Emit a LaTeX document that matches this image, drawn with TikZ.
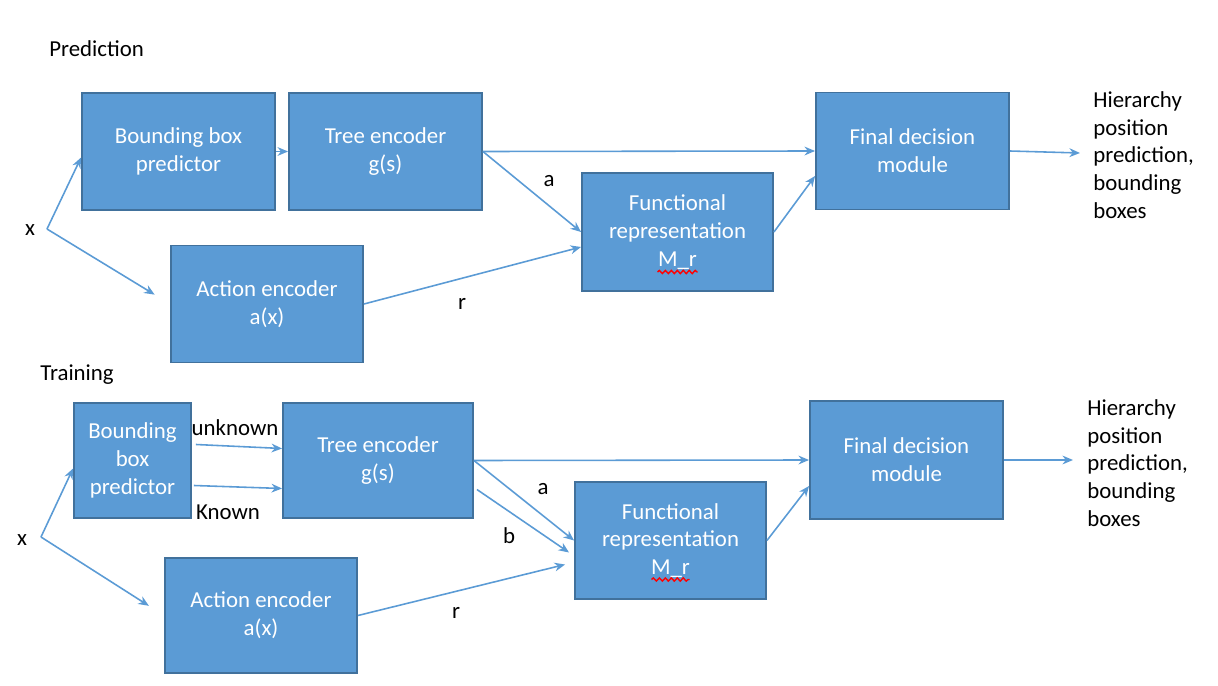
\documentclass[tikz,border=0pt]{standalone}
\usepackage{fontspec}
\setmainfont{Carlito}
\usetikzlibrary{arrows.meta,calc,decorations.pathmorphing}
\definecolor{boxfill}{HTML}{5B9BD5}
\definecolor{boxedge}{HTML}{41719C}
\tikzset{
	block/.style={draw=boxedge, fill=boxfill, line width=1.1pt, text=white, align=center,
		inner sep=0pt, minimum width=3.86cm, minimum height=2.34cm},
	flow/.style={-{Stealth[length=6pt,width=5pt]}, draw=boxfill, line width=0.9pt},
	lbl/.style={inner sep=0pt},
	squiggle/.style={red, line width=0.8pt, decorate,
		decoration={snake, amplitude=0.9pt, segment length=3.4pt}}
}
\begin{document}
\begin{tikzpicture}[x=0.02cm, y=-0.02cm, font=\fontsize{13}{15.8}\selectfont]
			\useasboundingbox (0,0) rectangle (1218,686);
			% prediction
			\node[lbl, anchor=west] (predL) at (49,49) {Prediction};
			\node[block] (bbP) at (178.5,151.5) {Bounding box\\predictor};
			\node[block] (treeP) at (385.5,151.5) {Tree encoder\\g(s)};
			\node[block] (finalP) at (912.5,151) {Final decision\\module};
			\node[block, minimum width=3.82cm, minimum height=2.36cm] (funcP) at (677.5,232) {Functional\\representation\\M\_r};
			\node[block, minimum width=3.84cm] (actP) at (267,304) {Action encoder\\a(x)};
			\coordinate (xP) at (47,229);
			\node[lbl] (xPL) at (30,230) {x};
			\coordinate (outP) at (1080,153);
			\node[lbl, anchor=west, align=left] (resP) at (1093,155) {Hierarchy\\position\\prediction,\\bounding\\boxes};
			\draw[flow] (xP) -- ($(bbP.west)+(0,6)$);
			\draw[flow, shorten >=0.36cm] (xP) -- (actP.west);
			\draw[flow] (bbP.east) -- (treeP.west);
			\draw[flow] (treeP.east) -- (finalP.west);
			\draw[flow] (treeP.east) -- (funcP.west);
			\draw[flow] (actP.east) -- ($(funcP.west)+(0,15)$);
			\draw[flow] (funcP.east) -- ($(finalP.west)+(0,25)$);
			\draw[flow] (finalP.east) -- (outP);
			\node[lbl] (aP) at (549,181) {a};
			\node[lbl] (rP) at (462,304) {r};
			\draw[squiggle] ($(funcP.center)+(-20,40)$) -- ($(funcP.center)+(20,40)$);
			% training
			\node[lbl, anchor=west] (trainL) at (40,375) {Training};
			\node[block, minimum width=2.34cm, minimum height=2.3cm] (bbT) at (132.5,460.5) {Bounding\\box\\predictor};
			\node[block, minimum width=3.8cm, minimum height=2.3cm] (treeT) at (378,460.5) {Tree encoder\\g(s)};
			\node[block, minimum height=2.36cm] (finalT) at (906.5,460) {Final decision\\module};
			\node[block, minimum width=3.82cm] (funcT) at (670.5,540.5) {Functional\\representation\\M\_r};
			\node[block, minimum width=3.84cm, minimum height=2.3cm] (actT) at (261,615.5) {Action encoder\\a(x)};
			\coordinate (xT) at (41,537);
			\node[lbl] (xTL) at (22,540) {x};
			\coordinate (outT) at (1073,460);
			\node[lbl, anchor=west, align=left] (resT) at (1087,463) {Hierarchy\\position\\prediction,\\bounding\\boxes};
			\draw[flow] (xT) -- ($(bbT.west)+(0,8)$);
			\draw[flow, shorten >=0.36cm] (xT) -- (actT.west);
			\draw[flow] ($(bbT.east)+(4,-16)$) -- ($(treeT.west)+(0,-12)$);
			\draw[flow] ($(bbT.east)+(2,25)$) -- ($(treeT.west)+(0,28)$);
			\node[lbl] (unkL) at (235,428) {unknown};
			\node[lbl] (knL) at (228,512) {Known};
			\draw[flow] (treeT.east) -- (finalT.west);
			\draw[flow] (treeT.east) -- (funcT.west);
			\draw[flow] ($(treeT.east)+(3,29)$) -- ($(funcT.west)+(-5,12)$);
			\draw[flow] (actT.east) -- ($(funcT.west)+(-9,24)$);
			\draw[flow] (funcT.east) -- ($(finalT.west)+(0,26)$);
			\draw[flow] (finalT.east) -- (outT);
			\node[lbl] (aT) at (543,489) {a};
			\node[lbl] (bT) at (509,536) {b};
			\node[lbl] (rT) at (456,613) {r};
			\draw[squiggle] ($(funcT.center)+(-19,39)$) -- ($(funcT.center)+(19,39)$);
		\end{tikzpicture}
\end{document}
